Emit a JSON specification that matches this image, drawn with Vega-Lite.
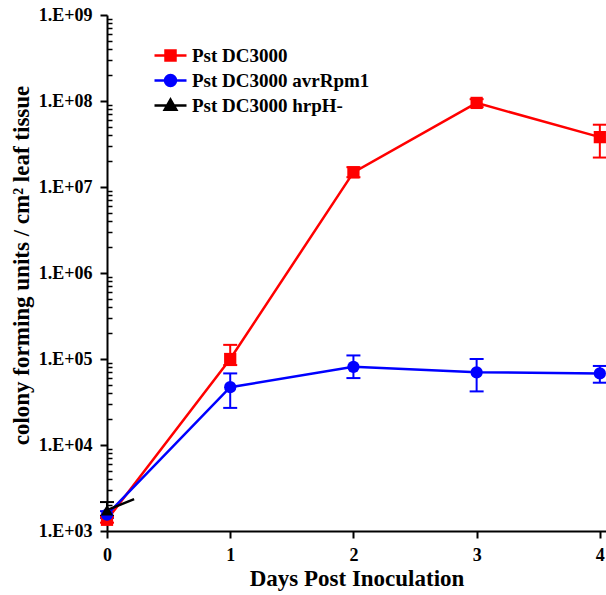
{
  "$schema": "https://vega.github.io/schema/vega-lite/v6.json",
  "width": 499,
  "height": 516,
  "autosize": {"type": "none"},
  "padding": {"left": 107, "top": 15, "right": 0, "bottom": 64},
  "background": "white",
  "config": {"view": {"stroke": null}, "font": "Liberation Serif"},
  "data": {
    "values": [
      {"series": "Pst DC3000", "day": 0, "cfu": 1350, "lo": 1250, "hi": 1450},
      {"series": "Pst DC3000", "day": 1, "cfu": 100000, "lo": 85000, "hi": 146000},
      {"series": "Pst DC3000", "day": 2, "cfu": 14800000, "lo": 13000000, "hi": 17000000},
      {"series": "Pst DC3000", "day": 3, "cfu": 95000000, "lo": 85000000, "hi": 105000000},
      {"series": "Pst DC3000", "day": 4, "cfu": 38000000, "lo": 22000000, "hi": 53000000},
      {"series": "Pst DC3000 avrRpm1", "day": 0, "cfu": 1550, "lo": 1420, "hi": 1700},
      {"series": "Pst DC3000 avrRpm1", "day": 1, "cfu": 47000, "lo": 27000, "hi": 68000},
      {"series": "Pst DC3000 avrRpm1", "day": 2, "cfu": 81000, "lo": 60000, "hi": 110000},
      {"series": "Pst DC3000 avrRpm1", "day": 3, "cfu": 70000, "lo": 42000, "hi": 100000},
      {"series": "Pst DC3000 avrRpm1", "day": 4, "cfu": 68000, "lo": 53000, "hi": 83000},
      {"series": "Pst DC3000 hrpH-", "day": 0, "cfu": 1750, "lo": 1500, "hi": 2170},
      {"series": "Pst DC3000 hrpH-", "day": 0.22, "cfu": 2350}
    ]
  },
  "encoding": {
    "x": {
      "field": "day",
      "type": "quantitative",
      "scale": {"domain": [0, 4.05], "nice": false, "zero": false},
      "axis": {
        "title": "Days Post Inoculation",
        "titleFont": "Liberation Serif",
        "titleFontSize": 23,
        "titleFontWeight": "bold",
        "titleColor": "black",
        "titlePadding": 3,
        "labelFont": "Liberation Serif",
        "labelFontSize": 18,
        "labelFontWeight": "bold",
        "labelColor": "black",
        "labelPadding": 8,
        "labelFlush": false,
        "values": [0, 1, 2, 3, 4],
        "format": "d",
        "tickSize": 7,
        "tickWidth": 2,
        "tickColor": "black",
        "domainColor": "black",
        "domainWidth": 2,
        "grid": false
      }
    },
    "y": {
      "field": "cfu",
      "type": "quantitative",
      "scale": {"type": "log", "domain": [1000, 1000000000], "nice": false},
      "axis": {
        "title": "colony forming units / cm² leaf tissue",
        "titleFont": "Liberation Serif",
        "titleFontSize": 23,
        "titleFontWeight": "bold",
        "titleColor": "black",
        "titlePadding": 5,
        "titleY": 250,
        "labelFont": "Liberation Serif",
        "labelFontSize": 18,
        "labelFontWeight": "bold",
        "labelColor": "black",
        "labelPadding": 8,
        "labelFlush": false,
        "values": [1000, 2000, 3000, 4000, 5000, 6000, 7000, 8000, 9000,
                   10000, 20000, 30000, 40000, 50000, 60000, 70000, 80000, 90000,
                   100000, 200000, 300000, 400000, 500000, 600000, 700000, 800000, 900000,
                   1000000, 2000000, 3000000, 4000000, 5000000, 6000000, 7000000, 8000000, 9000000,
                   10000000, 20000000, 30000000, 40000000, 50000000, 60000000, 70000000, 80000000, 90000000,
                   100000000, 200000000, 300000000, 400000000, 500000000, 600000000, 700000000, 800000000, 900000000,
                   1000000000],
        "labelExpr": "indexof([1e3,1e4,1e5,1e6,1e7,1e8,1e9], datum.value) >= 0 ? '1.E+0' + format(round(log(datum.value) / LN10), 'd') : ''",
        "tickSize": {"condition": {"test": "indexof([1e3,1e4,1e5,1e6,1e7,1e8,1e9], datum.value) >= 0", "value": 7}, "value": -5},
        "tickWidth": {"condition": {"test": "indexof([1e3,1e4,1e5,1e6,1e7,1e8,1e9], datum.value) >= 0", "value": 2}, "value": 1.5},
        "tickColor": "black",
        "domainColor": "black",
        "domainWidth": 2,
        "grid": false
      }
    }
  },
  "resolve": {"scale": {"shape": "independent", "fill": "independent", "stroke": "independent"}},
  "layer": [
    {
      "transform": [{"filter": "isValid(datum.lo)"}],
      "mark": {"type": "rule", "strokeWidth": 2},
      "encoding": {
        "y": {"field": "lo", "type": "quantitative"},
        "y2": {"field": "hi"},
        "color": {
          "field": "series",
          "type": "nominal",
          "legend": null,
          "scale": {"domain": ["Pst DC3000", "Pst DC3000 avrRpm1", "Pst DC3000 hrpH-"], "range": ["#ff0000", "#0000ff", "#000000"]}
        }
      }
    },
    {
      "transform": [{"filter": "isValid(datum.lo)"}],
      "mark": {"type": "tick", "orient": "horizontal", "size": 14, "thickness": 2, "opacity": 1},
      "encoding": {
        "y": {"field": "lo", "type": "quantitative"},
        "color": {"field": "series", "type": "nominal", "legend": null}
      }
    },
    {
      "transform": [{"filter": "isValid(datum.lo)"}],
      "mark": {"type": "tick", "orient": "horizontal", "size": 14, "thickness": 2, "opacity": 1},
      "encoding": {
        "y": {"field": "hi", "type": "quantitative"},
        "color": {"field": "series", "type": "nominal", "legend": null}
      }
    },
    {
      "mark": {"type": "line", "strokeWidth": 2.5},
      "encoding": {
        "color": {"field": "series", "type": "nominal", "legend": null}
      }
    },
    {
      "transform": [{"filter": "isValid(datum.lo)"}],
      "mark": {"type": "point", "filled": true, "opacity": 1, "size": 150},
      "encoding": {
        "shape": {
          "field": "series",
          "type": "nominal",
          "scale": {"domain": ["Pst DC3000", "Pst DC3000 avrRpm1", "Pst DC3000 hrpH-"], "range": ["square", "circle", "triangle-up"]},
          "legend": null
        },
        "color": {"field": "series", "type": "nominal", "legend": null}
      }
    },
    {
      "transform": [{"filter": "datum.day < 0"}],
      "mark": {"type": "point", "opacity": 1, "strokeWidth": 2.5},
      "encoding": {
        "fill": {
          "field": "series",
          "type": "nominal",
          "scale": {"domain": ["Pst DC3000", "Pst DC3000 avrRpm1", "Pst DC3000 hrpH-"], "range": ["#ff0000", "#0000ff", "#000000"]},
          "legend": {"title": null, "orient": "none", "legendX": 52, "legendY": 29, "padding": 0, "labelFont": "Liberation Serif", "labelFontSize": 19, "labelFontWeight": "bold", "labelColor": "black", "labelOffset": 10, "labelLimit": 0, "rowPadding": 3, "symbolSize": 400, "symbolStrokeWidth": 2.5, "symbolOpacity": 1}
        },
        "stroke": {
          "field": "series",
          "type": "nominal",
          "scale": {"domain": ["Pst DC3000", "Pst DC3000 avrRpm1", "Pst DC3000 hrpH-"], "range": ["#ff0000", "#0000ff", "#000000"]},
          "legend": {"title": null, "orient": "none", "legendX": 52, "legendY": 29, "padding": 0, "labelFont": "Liberation Serif", "labelFontSize": 19, "labelFontWeight": "bold", "labelColor": "black", "labelOffset": 10, "labelLimit": 0, "rowPadding": 3, "symbolSize": 400, "symbolStrokeWidth": 2.5, "symbolOpacity": 1}
        },
        "shape": {
          "field": "series",
          "type": "nominal",
          "scale": {
            "domain": ["Pst DC3000", "Pst DC3000 avrRpm1", "Pst DC3000 hrpH-"],
            "range": [
              "M-1.6,0L1.6,0M-0.5,-0.5L0.5,-0.5L0.5,0.5L-0.5,0.5Z",
              "M-1.6,0L1.6,0M0.55,0A0.55,0.55,0,1,1,-0.55,0A0.55,0.55,0,1,1,0.55,0Z",
              "M-1.6,0L1.6,0M0,-0.6L0.58,0.42L-0.58,0.42Z"
            ]
          },
          "legend": {"title": null, "orient": "none", "legendX": 52, "legendY": 29, "padding": 0, "labelFont": "Liberation Serif", "labelFontSize": 19, "labelFontWeight": "bold", "labelColor": "black", "labelOffset": 10, "labelLimit": 0, "rowPadding": 3, "symbolSize": 400, "symbolStrokeWidth": 2.5, "symbolOpacity": 1}
        }
      }
    }
  ]
}
